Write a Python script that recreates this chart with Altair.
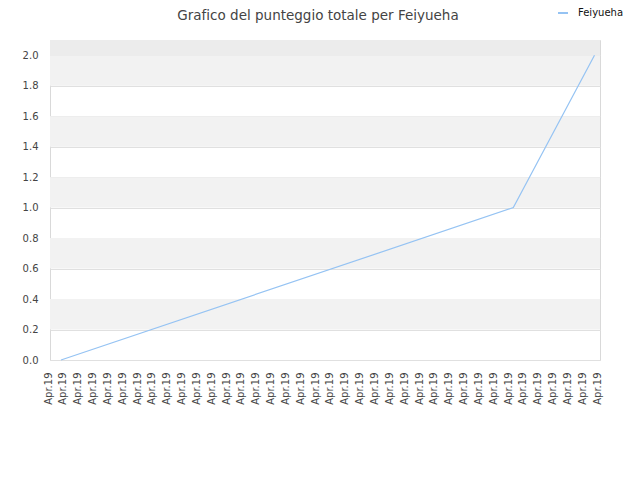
import altair as alt
import pandas as pd

# data
series_name = "Feiyueha"
point_x = [0.74, 31.22, 36.69]
point_y = [0.0, 1.0, 2.0]

tick_count = 38
tick_label = "Apr.19"
y_ticks = [0.0, 0.2, 0.4, 0.6, 0.8, 1.0, 1.2, 1.4, 1.6, 1.8, 2.0]
band_lo = [0.2, 0.6, 1.0, 1.4, 1.8]
band_hi = [0.4, 0.8, 1.2, 1.6, 2.0]
top_band = [2.0, 2.1]

# zero-width non-joiner keeps "fi" from turning into a ligature
title_text = "Graf\u200cico del punteggio totale per Feiyueha"

line_color = "#95c3f3"
W, H = 550, 320

line_df = pd.DataFrame({"x": point_x, "y": point_y, "series": [series_name] * len(point_x)})
band_df = pd.DataFrame({"lo": band_lo, "hi": band_hi})
top_df = pd.DataFrame({"lo": [top_band[0]], "hi": [top_band[1]]})

xscale = alt.Scale(domain=[0, 37.06], nice=False, zero=False)
yscale = alt.Scale(domain=[0, 2.1], nice=False)

y_axis = alt.Axis(values=y_ticks, format=".1f", labelFontSize=10, labelColor="#444444",
                  labelFont="DejaVu Sans", labelPadding=12, ticks=False, domain=False,
                  grid=True, gridColor="#e0e0e0", gridWidth=1)

bands = alt.Chart(band_df).mark_rect(color="#f2f2f2").encode(
    x=alt.value(0), x2=alt.value(W),
    y=alt.Y("lo:Q", scale=yscale, axis=y_axis, title=None), y2="hi:Q",
)
topb = alt.Chart(top_df).mark_rect(color="#ececec").encode(
    x=alt.value(0), x2=alt.value(W),
    y=alt.Y("lo:Q", scale=yscale, axis=y_axis, title=None), y2="hi:Q",
)

line = alt.Chart(line_df).mark_line(strokeWidth=1.2).encode(
    x=alt.X("x:Q", scale=xscale, title=None,
            axis=alt.Axis(values=list(range(tick_count)), labelExpr=f"'{tick_label}'",
                          labelAngle=270, labelAlign="right", labelBaseline="middle",
                          labelOverlap=False, labelFontSize=10, labelColor="#444444",
                          labelFont="DejaVu Sans", labelPadding=12, labelOffset=-2,
                          ticks=False, domain=False, grid=False, labelFlush=False)),
    y=alt.Y("y:Q", scale=yscale, title=None, axis=y_axis),
    color=alt.Color("series:N", scale=alt.Scale(domain=[series_name], range=[line_color]),
                    legend=alt.Legend(title=None, orient="none", legendX=507, legendY=-33,
                                      symbolType="stroke", symbolSize=100, symbolStrokeWidth=2,
                                      labelFontSize=10, labelColor="#111111", labelFont="DejaVu Sans",
                                      labelOffset=9, padding=0)),
)

chart = alt.layer(bands, topb, line).properties(
    width=W, height=H,
    title=alt.TitleParams(title_text, fontSize=13.5,
                          font="DejaVu Sans", fontWeight="normal", color="#444444",
                          anchor="middle", dx=-7, offset=-15),
    autosize=alt.AutoSizeParams(type="none"),
    padding={"left": 42, "top": 32, "right": 30, "bottom": 60},
).configure_view(stroke="#d9d9d9", strokeWidth=1)

chart.save("out.html", embed_options={"renderer": "svg", "actions": False})
